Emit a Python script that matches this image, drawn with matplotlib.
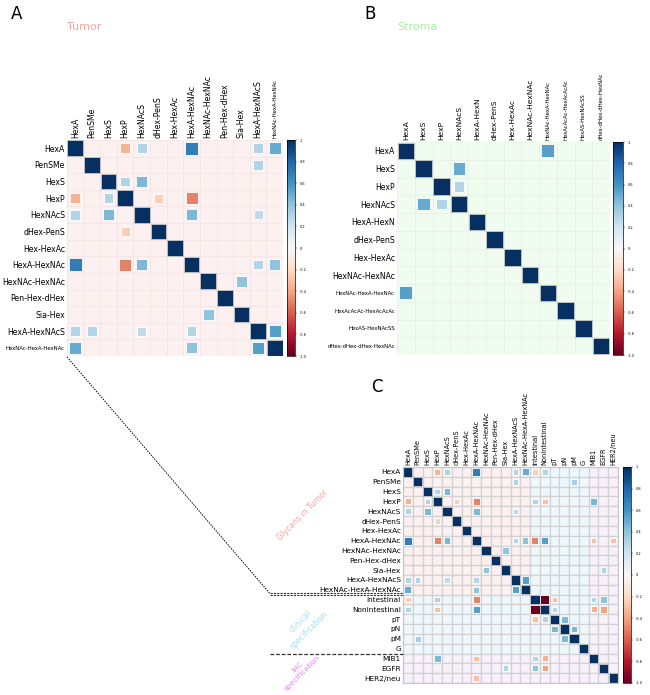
import numpy as np
import matplotlib
matplotlib.use('Agg')
import matplotlib.pyplot as plt
from matplotlib.patches import Rectangle
from matplotlib.lines import Line2D
from matplotlib.colors import Normalize
from matplotlib.cm import ScalarMappable

W, H = 650, 695

# Labels
tumor_labels = ['HexA', 'PenSMe', 'HexS', 'HexP', 'HexNAcS', 'dHex-PenS',
                'Hex-HexAc', 'HexA-HexNAc', 'HexNAc-HexNAc', 'Pen-Hex-dHex',
                'Sia-Hex', 'HexA-HexNAcS', 'HexNAc-HexA-HexNAc']
stroma_labels = ['HexA', 'HexS', 'HexP', 'HexNAcS', 'HexA-HexN', 'dHex-PenS',
                 'Hex-HexAc', 'HexNAc-HexNAc', 'HexNAc-HexA-HexNAc',
                 'HexAcAcAc-HexAcAcAc', 'HexAS-HexNAcSS', 'dHex-dHex-dHex-HexNAc']
clinical_labels = ['Intestinal', 'Nonintestinal', 'pT', 'pN', 'pM', 'G']
ihc_labels = ['MIB1', 'EGFR', 'HER2/neu']

# Off-diagonal correlations, mirrored into matrices
tumor_pairs = [
    ('HexA', 'HexP', -0.35), ('HexA', 'HexNAcS', 0.3), ('HexA', 'HexA-HexNAc', 0.7),
    ('HexA', 'HexA-HexNAcS', 0.3), ('HexA', 'HexNAc-HexA-HexNAc', 0.5),
    ('PenSMe', 'HexA-HexNAcS', 0.3),
    ('HexS', 'HexP', 0.3), ('HexS', 'HexNAcS', 0.45),
    ('HexP', 'dHex-PenS', -0.25), ('HexP', 'HexA-HexNAc', -0.5),
    ('HexNAcS', 'HexA-HexNAc', 0.45), ('HexNAcS', 'HexA-HexNAcS', 0.25),
    ('HexA-HexNAc', 'HexA-HexNAcS', 0.3), ('HexA-HexNAc', 'HexNAc-HexA-HexNAc', 0.4),
    ('HexNAc-HexNAc', 'Sia-Hex', 0.4),
    ('HexA-HexNAcS', 'HexNAc-HexA-HexNAc', 0.55),
]
stroma_pairs = [
    ('HexA', 'HexNAc-HexA-HexNAc', 0.55),
    ('HexS', 'HexNAcS', 0.5),
    ('HexP', 'HexNAcS', 0.3),
]
clinical_pairs = [
    ('HexA', 'Intestinal', -0.25), ('HexA', 'Nonintestinal', 0.3),
    ('PenSMe', 'pM', 0.35),
    ('HexP', 'Intestinal', 0.3), ('HexP', 'Nonintestinal', -0.3), ('HexP', 'MIB1', 0.45),
    ('HexA-HexNAc', 'Intestinal', -0.5), ('HexA-HexNAc', 'Nonintestinal', 0.55),
    ('HexA-HexNAc', 'MIB1', -0.3), ('HexA-HexNAc', 'HER2/neu', -0.3),
    ('Sia-Hex', 'EGFR', 0.3),
    ('Intestinal', 'Nonintestinal', -1.0), ('Intestinal', 'pT', -0.3),
    ('Intestinal', 'MIB1', 0.3), ('Intestinal', 'EGFR', 0.4),
    ('Nonintestinal', 'pT', 0.3), ('Nonintestinal', 'MIB1', -0.35),
    ('Nonintestinal', 'EGFR', -0.4),
    ('pT', 'pN', 0.45),
    ('pN', 'pM', 0.45),
]

cbar_ticks = [1, 0.8, 0.6, 0.4, 0.2, 0, -0.2, -0.4, -0.6, -0.8, -1]
cbar_labels = ['1', '0.8', '0.6', '0.4', '0.2', '0', '-0.2', '-0.4', '-0.6', '-0.8', '-1.0']

cmap = plt.get_cmap('RdBu')
norm = Normalize(-1, 1)

fig = plt.figure(figsize=(W / 100, H / 100), dpi=100)


def add_ax(left, top, width, height):
    return fig.add_axes([left / W, 1 - (top + height) / H, width / W, height / H])


def fx(x):
    return x / W


def fy(y):
    return 1 - y / H


def build_matrix(labels, pairs):
    idx = {l: i for i, l in enumerate(labels)}
    mat = np.eye(len(labels))
    for a, b, r in pairs:
        mat[idx[a], idx[b]] = r
        mat[idx[b], idx[a]] = r
    return mat


def draw_corr(ax, labels, mat, bg, grid_color, grid_lw, row_fs, col_fs, groups=None):
    n = len(labels)
    for i in range(n):
        for j in range(n):
            if groups is None:
                color = bg
            else:
                color = bg[max(groups[i], groups[j])]
            ax.add_patch(Rectangle((j, i), 1, 1, facecolor=color,
                                   edgecolor=grid_color, linewidth=grid_lw))
    for i in range(n):
        for j in range(n):
            v = mat[i, j]
            if v == 0:
                continue
            # square side grows with |r|
            side = 0.94 * abs(v) ** 0.4
            ec = '#c8c8c8' if i == j else 'white'
            ax.add_patch(Rectangle((j + (1 - side) / 2, i + (1 - side) / 2), side, side,
                                   facecolor=cmap(norm(v)), edgecolor=ec, linewidth=0.6))
    ax.set_xlim(0, n)
    ax.set_ylim(n, 0)
    ax.set_xticks(np.arange(n) + 0.5)
    ax.set_yticks(np.arange(n) + 0.5)
    ax.set_xticklabels(labels, rotation=90)
    ax.set_yticklabels(labels)
    ax.xaxis.tick_top()
    ax.tick_params(length=0, pad=1.5)
    for t, fs in zip(ax.get_xticklabels(), col_fs):
        t.set_fontsize(fs)
    for t, fs in zip(ax.get_yticklabels(), row_fs):
        t.set_fontsize(fs)


def add_cbar(left, top, width, height):
    cax = add_ax(left, top, width, height)
    cb = fig.colorbar(ScalarMappable(norm=norm, cmap=cmap), cax=cax, ticks=cbar_ticks)
    cb.ax.set_yticklabels(cbar_labels, fontsize=2.5)
    cb.ax.tick_params(length=1.2, width=0.3, pad=2)
    cb.outline.set_linewidth(0.5)
    return cb


# Panel A - Tumor
ax_a = add_ax(67, 140, 216, 216)
mat_a = build_matrix(tumor_labels, tumor_pairs)
fs_a = [5.6] * 12 + [3.9]
draw_corr(ax_a, tumor_labels, mat_a, '#fdf0f0', '#f5e2e2', 0.5, fs_a, fs_a)
for s in ax_a.spines.values():
    s.set_visible(False)
add_cbar(287, 140, 8, 216)

# Panel B - Stroma
ax_b = add_ax(397, 142, 213, 213)
mat_b = build_matrix(stroma_labels, stroma_pairs)
fs_b_rows = [5.6] * 8 + [3.9] * 4
fs_b_cols = [5.4] * 8 + [3.9] * 4
draw_corr(ax_b, stroma_labels, mat_b, '#f0fcf0', '#e2f2e2', 0.5, fs_b_rows, fs_b_cols)
for s in ax_b.spines.values():
    s.set_visible(False)
add_cbar(613, 142, 10, 213)

# Panel C - glycans + clinical + IHC
all_labels = tumor_labels + clinical_labels + ihc_labels
groups_c = [0] * len(tumor_labels) + [1] * len(clinical_labels) + [2] * len(ihc_labels)
mat_c = build_matrix(all_labels, tumor_pairs + clinical_pairs)
ax_c = add_ax(403, 467, 215, 216)
n_c = len(all_labels)
draw_corr(ax_c, all_labels, mat_c, ['#fdf0f0', '#eef8fc', '#f8f0fb'], '#d2d2d2', 0.9,
          [5.3] * n_c, [4.8] * n_c, groups=groups_c)
for s in ax_c.spines.values():
    s.set_color('#c8c8c8')
    s.set_linewidth(0.9)
add_cbar(623, 467, 8, 216)

# Panel letters and titles
fig.text(fx(11), fy(19), 'A', fontsize=12)
fig.text(fx(364), fy(19), 'B', fontsize=12)
fig.text(fx(371), fy(392), 'C', fontsize=12)
fig.text(fx(67), fy(30), 'Tumor', fontsize=8, color='#f7a3a3')
fig.text(fx(397), fy(30), 'Stroma', fontsize=8, color='#a3f2a3')

# Group annotations for panel C
fig.text(fx(303), fy(515), 'Glycans in Tumor', rotation=45, ha='center', va='center',
         fontsize=5.6, color='#f5a0a0')
fig.text(fx(305), fy(626), 'clinical\nspecification', rotation=45, ha='center', va='center',
         fontsize=5.6, color='#a6dcf6', multialignment='center', linespacing=1.4)
fig.text(fx(300), fy(670), 'IHC\nspecification', rotation=45, ha='center', va='center',
         fontsize=5.4, color='#e480f2', multialignment='center', linespacing=1.3)

# Connector lines
cell_c = 216 / n_c
y_split1 = 467 + len(tumor_labels) * cell_c
y_split2 = 467 + (len(tumor_labels) + len(clinical_labels)) * cell_c
fig.add_artist(Line2D([fx(67), fx(270)], [fy(357), fy(y_split1 - 1)], color='black',
                      linewidth=0.7, linestyle=(0, (1.5, 1.2))))
for dy in (-1.2, 0.6):
    fig.add_artist(Line2D([fx(270), fx(403)], [fy(y_split1 + dy), fy(y_split1 + dy)],
                          color='#333333', linewidth=0.8, linestyle=(0, (2, 1))))
fig.add_artist(Line2D([fx(270), fx(403)], [fy(y_split2), fy(y_split2)], color='#333333',
                      linewidth=0.9, linestyle=(0, (3, 1.5))))

fig.savefig('out.png', dpi=100)
